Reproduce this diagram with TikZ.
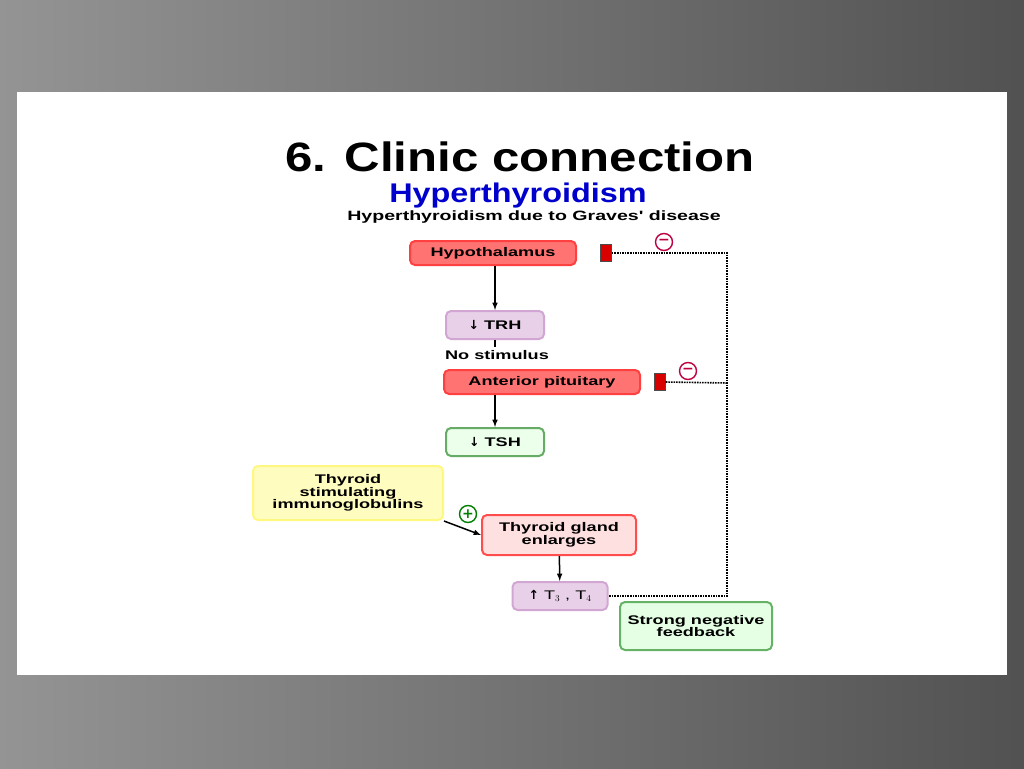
\documentclass[tikz,border=0pt]{standalone}
\usepackage{fontspec}
\setmainfont{Liberation Sans}
\newfontfamily\wide[FakeStretch=1.45]{Liberation Sans}
\newfontfamily\tit[FakeStretch=1.2]{Liberation Sans}
\newfontfamily\sym{DejaVu Sans}
\begin{document}
\begin{tikzpicture}[x=1pt,y=-1pt,
 box/.style={rounded corners=5pt,line width=2pt,font=\wide\bfseries\fontsize{12.5}{11}\selectfont,align=center,minimum height=#1},
 red/.style={box=24pt,draw=red!75!white,fill=red!55!white},
 purp/.style={box=28pt,draw=violet!35!white,fill=violet!18!white},
 arr/.style={-latex,line width=1.5pt},
 dsh/.style={densely dotted,line width=1.6pt},
 sgn/.style={circle,draw=#1,line width=1.4pt,inner sep=0pt,minimum size=17pt,font=\sym\bfseries\fontsize{14}{14}\selectfont,text=#1}]
\useasboundingbox (0,0) rectangle (1024,768);
\shade[left color=black!42,right color=black!68] (0,0) rectangle (1024,768);
\fill[white] (17,92) rectangle (1007,675);
\node[font=\tit\bfseries\fontsize{41}{41}\selectfont] (title) at (520,157) {6. Clinic connection};
\node[font=\tit\bfseries\fontsize{27}{27}\selectfont,text=blue!80!black] (sub) at (518,196) {Hyperthyroidism};
\node[font=\wide\bfseries\fontsize{13.5}{13.5}\selectfont] (sub2) at (534,217) {Hyperthyroidism due to Graves' disease};
\node[red,minimum width=166pt] (hyp) at (493,253) {Hypothalamus};
\node[purp,minimum width=98pt] (trh) at (495,325) {{\sym\bfseries ↓} TRH};
\node[font=\wide\bfseries\fontsize{12.5}{12.5}\selectfont] (ns) at (497,355) {No stimulus};
\node[red,minimum width=196pt] (ap) at (542,382) {Anterior pituitary};
\node[box=28pt,minimum width=98pt,draw=green!45!black!60!white,fill=green!8!white] (tsh) at (495,442) {{\sym\bfseries ↓} TSH};
\node[box=54pt,minimum width=190pt,draw=yellow!50!white,fill=yellow!25!white,font=\wide\bfseries\fontsize{12.5}{11}\selectfont] (tsi) at (348,493) {Thyroid\\stimulating\\immunoglobulins};
\node[box=40pt,minimum width=154pt,draw=red!70!white,fill=red!12!white,font=\wide\bfseries\fontsize{12.5}{11}\selectfont] (tg) at (559,535) {Thyroid gland\\enlarges};
\node[purp,minimum width=95pt,font=\wide\fontsize{12.5}{11}\selectfont] (t34) at (560,596) {{\sym\bfseries ↑} T$_3$ , T$_4$};
\node[box=48pt,minimum width=152pt,draw=green!50!black!60!white,fill=green!10!white,font=\wide\bfseries\fontsize{12.5}{11}\selectfont] (snf) at (696,626) {Strong negative\\feedback};
\node[draw=black!70,fill=red!85!black,minimum width=11pt,minimum height=17pt,inner sep=0pt] (b1) at (606,253) {};
\node[draw=black!70,fill=red!85!black,minimum width=11pt,minimum height=17pt,inner sep=0pt] (b2) at (660,382) {};
\node[sgn=purple] (m1) at (664,242) {−};
\node[sgn=purple] (m2) at (688,371) {−};
\node[sgn=green!50!black] (p1) at (468,514) {+};
\coordinate (c1) at (727,253);
\coordinate (c2) at (727,383);
\coordinate (c3) at (727,596);
\draw[arr] (hyp.south -| trh) -- (trh);
\draw[line width=1.5pt] (trh.south) -- (ns.north -| trh);
\draw[arr] (ap.south -| tsh) -- (tsh);
\draw[arr] (tsi.south east) -- (tg.west);
\draw[arr] (tg) -- (t34);
\draw[dsh] (b1.east) -- (c1) -- (c3) -- (t34.east);
\draw[dsh] (b2.east) -- (c2);
\end{tikzpicture}
\end{document}
